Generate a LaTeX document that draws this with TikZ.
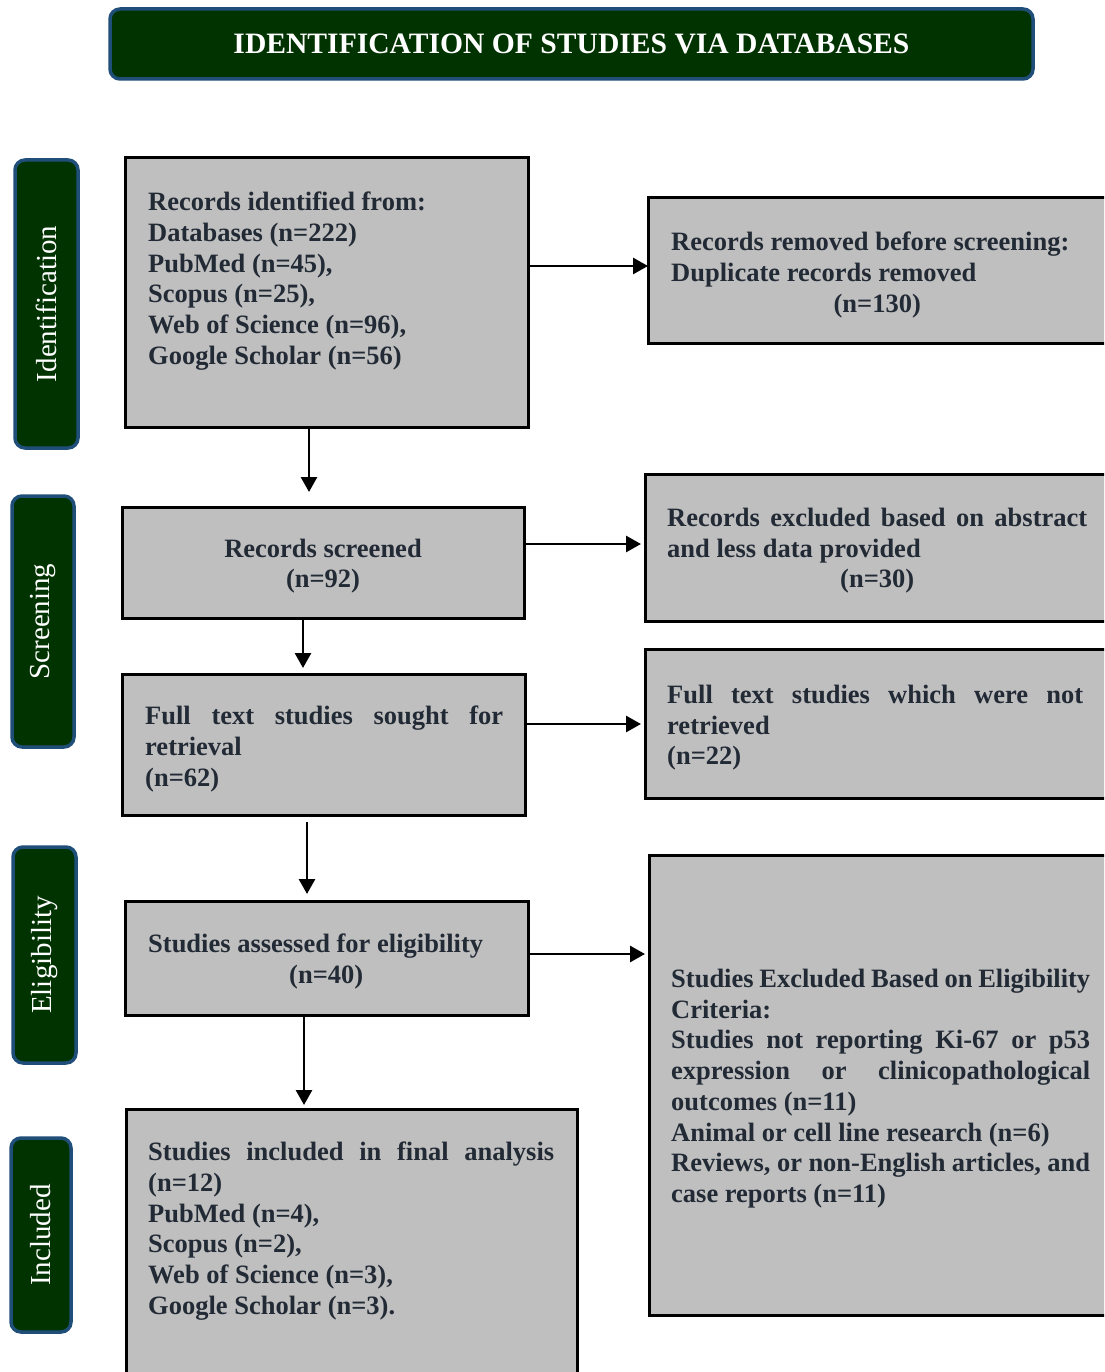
\documentclass[tikz,border=0pt]{standalone}
\usepackage{fontspec}
\setmainfont{Liberation Serif}
\usetikzlibrary{arrows.meta}
\definecolor{dgreen}{HTML}{003300}
\definecolor{bblue}{HTML}{1F4E79}
\definecolor{boxgray}{HTML}{BFBFBF}
\definecolor{txtcol}{HTML}{222A35}
\begin{document}
\begin{tikzpicture}[x=1pt,y=-1pt,
  box/.style={draw=black, line width=3pt, fill=boxgray, inner sep=0pt, outer sep=0pt},
  hdr/.style={draw=bblue, line width=3.5pt, fill=dgreen, rounded corners=10pt, inner sep=0pt, outer sep=0pt, text=white, font=\fontsize{29.6}{34}\selectfont\bfseries},
  side/.style={draw=bblue, line width=3.5pt, fill=dgreen, rounded corners=10pt, inner sep=0pt, outer sep=0pt, text=white, font=\fontsize{29}{34}\selectfont, rotate=90},
  txt/.style={font=\fontsize{26.5}{30.7}\selectfont\bfseries, text=txtcol, inner sep=0pt, anchor=north west, align=justify},
  arr/.style={line width=2.8pt, -{Triangle[length=15pt,width=16pt]}}
]
\useasboundingbox (0,0) rectangle (1104,1372);
\clip (0,0) rectangle (1104,1372);
\fill[white] (0,0) rectangle (1104,1372);

% header
\node[hdr, minimum width=923pt, minimum height=70pt] (title) at (571.5,44) {IDENTIFICATION OF STUDIES VIA DATABASES};

% side labels
\node[side, minimum width=288pt, minimum height=63pt] (L1) at (46.5,304) {Identification};
\node[side, minimum width=251pt, minimum height=62pt] (L2) at (43,621.5) {Screening};
\node[side, minimum width=216pt, minimum height=63pt] (L3) at (44.5,955) {Eligibility};
\node[side, minimum width=194pt, minimum height=60pt] (L4) at (41,1235) {Included};

% boxes
\node[box, minimum width=403pt, minimum height=269pt] (A) at (326.5,292.5) {};
\node[box, minimum width=470pt, minimum height=145pt] (B) at (883,270.5) {};
\node[box, minimum width=402pt, minimum height=111pt] (C) at (323,562.5) {};
\node[box, minimum width=473pt, minimum height=147pt] (D) at (881.5,547.5) {};
\node[box, minimum width=403pt, minimum height=141pt] (E) at (323.5,744.5) {};
\node[box, minimum width=473pt, minimum height=149pt] (F) at (881.5,723.5) {};
\node[box, minimum width=403pt, minimum height=114pt] (G) at (326.5,958) {};
\node[box, minimum width=469pt, minimum height=460pt] (H) at (883.5,1085) {};
\node[box, minimum width=451pt, minimum height=280pt] (I) at (351.5,1249) {};

% texts
\node[txt, text width=380pt] (tA) at (148,192) {Records identified from:\\ Databases (n=222)\\ PubMed (n=45),\\ Scopus (n=25),\\ Web of Science (n=96),\\ Google Scholar (n=56)};
\node[txt, text width=412pt] (tB) at (671,232) {Records removed before screening:\\ Duplicate records removed\\ \makebox[\hsize]{(n=130)}};
\node[txt, anchor=center, align=center] (tC) at (323,566) {Records screened\\ (n=92)};
\node[txt, text width=420pt] (tD) at (667,508) {Records excluded based on abstract\linebreak and less data provided\\ \makebox[\hsize]{(n=30)}};
\node[txt, text width=358pt] (tE) at (145,706) {Full text studies sought for\linebreak retrieval\\ (n=62)};
\node[txt, text width=416pt] (tF) at (667,685) {Full text studies which were not\linebreak retrieved\\ (n=22)};
\node[txt, text width=356pt] (tG) at (148,934) {Studies assessed for eligibility\\ \makebox[\hsize]{(n=40)}};
\node[txt, text width=419pt] (tH) at (671,969) {Studies Excluded Based on Eligibility\\ Criteria:\\ Studies not reporting Ki-67 or p53\linebreak expression or clinicopathological\linebreak outcomes (n=11)\\ Animal or cell line research (n=6)\\ Reviews, or non-English articles, and\linebreak case reports (n=11)};
\node[txt, text width=406pt] (tI) at (148,1142) {Studies included in final analysis\linebreak (n=12)\\ PubMed (n=4),\\ Scopus (n=2),\\ Web of Science (n=3),\\ Google Scholar (n=3).};

% arrows
\draw[arr] (A.east |- 0,266) -- (B.west |- 0,266);
\draw[arr, shorten >=15pt] (A.south -| 309,0) -- (C.north -| 309,0);
\draw[arr] (C.east |- 0,544) -- ([xshift=-4pt]D.west |- 0,544);
\draw[arr, shorten >=6pt] (C.south -| 303,0) -- (E.north -| 303,0);
\draw[arr] (E.east |- 0,724) -- ([xshift=-4pt]F.west |- 0,724);
\draw[arr, shorten <=7pt, shorten >=7pt] (E.south -| 307,0) -- (G.north -| 307,0);
\draw[arr] (G.east |- 0,954) -- ([xshift=-4pt]H.west |- 0,954);
\draw[arr, shorten >=4pt] (G.south -| 304,0) -- (I.north -| 304,0);
\end{tikzpicture}
\end{document}
